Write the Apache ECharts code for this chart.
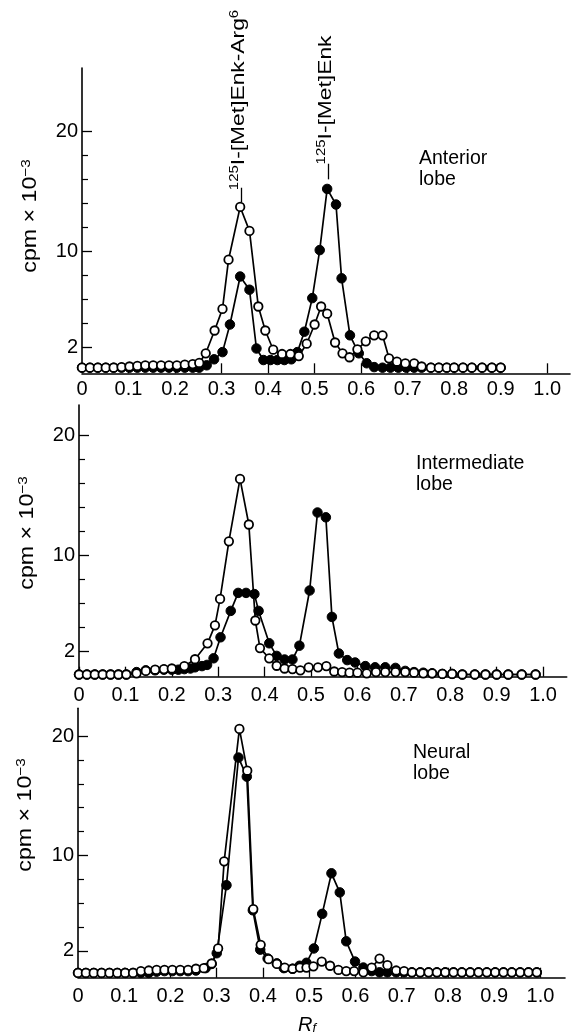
<!DOCTYPE html>
<html>
<head>
<meta charset="utf-8">
<script src="https://cdn.jsdelivr.net/npm/echarts@6/dist/echarts.min.js"></script>
<style>
html,body{margin:0;padding:0;background:#fff;}
#c{width:572px;height:1036px;}
</style>
</head>
<body>
<div id="c"></div>
<script>
// ---------- DATA ----------
const xTicks = [0,0.1,0.2,0.3,0.4,0.5,0.6,0.7,0.8,0.9,1.0];
const xTickLabels = ['0','0.1','0.2','0.3','0.4','0.5','0.6','0.7','0.8','0.9','1.0'];
const yMajorTicks = [2,10,20];
const yMinorTicks = [4,6,8,12,14,16,18];

// Anterior lobe
const antOpenX = [0,0.017,0.034,0.051,0.068,0.085,0.102,0.119,0.136,0.153,0.17,0.187,0.204,0.221,0.238,0.252,0.266,0.285,0.302,0.315,0.34,0.36,0.379,0.394,0.411,0.43,0.448,0.466,0.483,0.5,0.514,0.527,0.544,0.56,0.575,0.592,0.61,0.628,0.646,0.66,0.677,0.695,0.714,0.73,0.75,0.767,0.784,0.8,0.819,0.838,0.86,0.881,0.9];
const antOpenY = [0.3,0.3,0.3,0.3,0.3,0.35,0.4,0.45,0.5,0.5,0.5,0.5,0.5,0.55,0.6,0.7,1.5,3.4,5.2,9.3,13.7,11.7,5.4,3.4,1.8,1.44,1.44,1.27,2.3,3.9,5.4,4.8,2.4,1.5,1.17,1.83,2.5,3.0,3.0,1.08,0.8,0.66,0.66,0.4,0.3,0.3,0.3,0.3,0.3,0.3,0.3,0.3,0.3];
const antFillX = [0,0.017,0.034,0.051,0.068,0.085,0.102,0.119,0.136,0.153,0.17,0.187,0.204,0.221,0.238,0.252,0.268,0.284,0.302,0.318,0.34,0.36,0.375,0.39,0.405,0.42,0.435,0.45,0.463,0.478,0.495,0.511,0.527,0.546,0.558,0.576,0.595,0.612,0.628,0.646,0.663,0.68,0.697,0.714,0.73,0.75,0.767,0.784,0.8,0.819,0.838,0.86,0.881,0.9];
const antFillY = [0.3,0.3,0.3,0.3,0.3,0.3,0.3,0.3,0.3,0.3,0.3,0.3,0.3,0.3,0.3,0.3,0.5,1.0,1.6,3.9,7.9,6.8,1.9,0.94,0.94,0.94,0.94,1.0,1.6,3.3,6.1,10.1,15.2,13.9,7.75,3.0,1.5,0.67,0.35,0.3,0.3,0.3,0.3,0.3,0.3,0.3,0.3,0.3,0.3,0.3,0.3,0.3,0.3,0.3];

// Intermediate lobe
const intOpenX = [0,0.017,0.034,0.051,0.068,0.085,0.102,0.124,0.144,0.164,0.183,0.2,0.227,0.25,0.277,0.293,0.304,0.323,0.347,0.366,0.38,0.39,0.41,0.426,0.443,0.46,0.477,0.495,0.515,0.533,0.55,0.567,0.583,0.6,0.62,0.64,0.66,0.682,0.703,0.722,0.742,0.761,0.783,0.804,0.826,0.853,0.876,0.9,0.925,0.954,0.984];
const intOpenY = [0.1,0.1,0.1,0.1,0.1,0.1,0.1,0.2,0.4,0.5,0.55,0.6,0.8,1.37,2.7,4.2,6.4,11.2,16.4,12.6,4.6,2.3,1.45,0.83,0.6,0.55,0.45,0.7,0.7,0.8,0.35,0.3,0.25,0.25,0.2,0.3,0.3,0.3,0.3,0.25,0.2,0.2,0.15,0.15,0.1,0.1,0.1,0.1,0.1,0.1,0.1];
const intFillX = [0,0.017,0.034,0.051,0.068,0.085,0.102,0.124,0.144,0.164,0.183,0.2,0.214,0.227,0.24,0.25,0.265,0.276,0.29,0.305,0.327,0.343,0.36,0.378,0.387,0.41,0.426,0.443,0.46,0.475,0.497,0.514,0.532,0.545,0.56,0.578,0.595,0.617,0.638,0.66,0.682,0.703,0.722,0.742,0.761,0.783,0.804,0.826,0.853,0.876,0.9,0.925,0.954,0.984];
const intFillY = [0.1,0.1,0.1,0.1,0.1,0.1,0.1,0.3,0.45,0.45,0.5,0.5,0.5,0.55,0.6,0.7,0.8,0.9,1.45,3.2,5.4,6.9,6.9,6.8,5.4,2.7,1.65,1.35,1.35,2.5,7.1,13.6,13.2,4.9,1.85,1.3,1.1,0.8,0.7,0.7,0.65,0.4,0.3,0.25,0.2,0.15,0.15,0.1,0.1,0.1,0.1,0.1,0.1,0.1];

// Neural lobe
const neuOpenX = [0,0.017,0.034,0.051,0.068,0.085,0.102,0.119,0.136,0.153,0.17,0.187,0.204,0.221,0.238,0.255,0.272,0.289,0.303,0.316,0.349,0.366,0.379,0.395,0.412,0.43,0.447,0.464,0.48,0.494,0.509,0.527,0.545,0.563,0.58,0.597,0.617,0.635,0.652,0.669,0.688,0.705,0.722,0.74,0.758,0.776,0.794,0.812,0.83,0.848,0.866,0.884,0.902,0.92,0.938,0.956,0.974,0.992];
const neuOpenY = [0.15,0.15,0.15,0.15,0.15,0.15,0.15,0.15,0.3,0.35,0.4,0.4,0.4,0.4,0.4,0.5,0.55,0.94,2.2,9.5,20.6,17.1,5.5,2.5,1.3,0.9,0.6,0.5,0.6,0.6,0.7,1.1,0.75,0.4,0.3,0.3,0.2,0.6,1.35,0.8,0.35,0.3,0.2,0.2,0.2,0.2,0.2,0.2,0.2,0.2,0.2,0.2,0.2,0.2,0.2,0.2,0.2,0.2];
const neuFillX = [0,0.017,0.034,0.051,0.068,0.085,0.102,0.119,0.136,0.153,0.17,0.187,0.204,0.221,0.238,0.255,0.276,0.289,0.3,0.321,0.347,0.365,0.378,0.394,0.41,0.43,0.445,0.464,0.479,0.494,0.51,0.528,0.548,0.566,0.58,0.599,0.617,0.635,0.652,0.669,0.688,0.705,0.722,0.74,0.758,0.776,0.794,0.812,0.83,0.848,0.866,0.884,0.902,0.92,0.938,0.956,0.974,0.992];
const neuFillY = [0.15,0.15,0.15,0.15,0.15,0.15,0.15,0.15,0.15,0.15,0.25,0.3,0.3,0.3,0.3,0.35,0.55,0.9,1.8,7.5,18.2,16.6,5.4,2.1,1.36,0.95,0.55,0.5,0.75,1.0,2.2,5.1,8.5,6.9,2.8,1.1,0.6,0.3,0.2,0.2,0.2,0.2,0.2,0.2,0.2,0.2,0.2,0.2,0.2,0.2,0.2,0.2,0.2,0.2,0.2,0.2,0.2,0.2];

const panelNames = ['Anterior\nlobe','Intermediate\nlobe','Neural\nlobe'];
const peakLabels = ['{s|125}{n|I-[Met]Enk-Arg}{s|6}','{s|125}{n|I-[Met]Enk}'];
const yName = '{n|cpm × 10}{s|−3}';

// ---------- LAYOUT ----------
const FONT = "'Liberation Sans', Arial, Helvetica, sans-serif";
const grids = [
  {left:82, top:68, width:488, height:303.3, ymax:25.28, xmax:1.049, xoff:2, lm:6},
  {left:79, top:405, width:487.7, height:270.7, ymax:22.56, xmax:1.051, xoff:1, lm:9},
  {left:78, top:708.3, width:487, height:266.4, ymax:22.33, xmax:1.053, xoff:3, lm:9}
];
const pairs = (xs, ys) => xs.map((x,i)=>[x, ys[i]]);
const panels = [
  [pairs(antOpenX,antOpenY), pairs(antFillX,antFillY)],
  [pairs(intOpenX,intOpenY), pairs(intFillX,intFillY)],
  [pairs(neuOpenX,neuOpenY), pairs(neuFillX,neuFillY)]
];

const gridOpt = [], xAxes = [], yAxes = [], series = [];
grids.forEach((g,i)=>{
  gridOpt.push({left:g.left, top:g.top, width:g.width, height:g.height, containLabel:false});
  xAxes.push({
    type:'value', gridIndex:i, min:0, max:g.xmax, offset:g.xoff,
    axisLine:{show:true, onZero:false, lineStyle:{color:'#000', width:1.6}},
    axisTick:{show:true, inside:true, length:10, customValues:xTicks, lineStyle:{color:'#000', width:1.3}},
    axisLabel:{show:true, customValues:xTicks, margin:g.lm, color:'#000', fontFamily:FONT, fontSize:20,
      formatter:(v)=>{const k=xTicks.findIndex(t=>Math.abs(t-v)<1e-6); return k>=0?xTickLabels[k]:'';}},
    splitLine:{show:false}
  });
  yAxes.push({
    type:'value', gridIndex:i, min:0, max:g.ymax, position:'left',
    axisLine:{show:true, onZero:false, lineStyle:{color:'#000', width:1.6}},
    axisTick:{show:true, inside:true, length:10, customValues:yMajorTicks, lineStyle:{color:'#000', width:1.3}},
    axisLabel:{show:true, customValues:yMajorTicks, margin:4, color:'#000', fontFamily:FONT, fontSize:20},
    splitLine:{show:false}
  });
  yAxes.push({
    type:'value', gridIndex:i, min:0, max:g.ymax, position:'left',
    axisLine:{show:false},
    axisTick:{show:true, inside:true, length:6, customValues:yMinorTicks, lineStyle:{color:'#000', width:1.2}},
    axisLabel:{show:false},
    splitLine:{show:false}
  });
  const [openD, fillD] = panels[i];
  const fillS = {
    type:'line', xAxisIndex:i, yAxisIndex:2*i, data:fillD, symbol:'circle', symbolSize:9.5, showSymbol:true,
    lineStyle:{color:'#000', width:1.7}, itemStyle:{color:'#000', borderColor:'#000', borderWidth:1}, z:2, silent:true, animation:false
  };
  const openS = {
    type:'line', xAxisIndex:i, yAxisIndex:2*i, data:openD, symbol:'circle', symbolSize:8.5, showSymbol:true,
    lineStyle:{color:'#000', width:1.7}, itemStyle:{color:'#fff', borderColor:'#000', borderWidth:1.8}, z:3, silent:true, animation:false
  };
  if (i===0) {
    const arrowStyle = {symbol:['none','arrow'], symbolSize:[0,7], silent:true, animation:false,
      lineStyle:{color:'#000', width:1.3, type:'solid'}, label:{show:false}};
    openS.markLine = Object.assign({data:[[{coord:[0.342,15.3]},{coord:[0.342,14.1]}]]}, arrowStyle);
    fillS.markLine = Object.assign({data:[[{coord:[0.529,17.3]},{coord:[0.529,16.0]}]]}, arrowStyle);
  }
  series.push(fillS, openS);
});

const richSup = {
  n:{fontFamily:FONT, fontSize:19, color:'#000', lineHeight:24},
  s:{fontFamily:FONT, fontSize:12.5, color:'#000', lineHeight:24, padding:[0,0,9,0]}
};
const graphic = [];
const yNamePos = [[31,216],[28,533],[26,815]];
yNamePos.forEach(p=>{
  graphic.push({type:'text', x:p[0], y:p[1], rotation:Math.PI/2, scaleX:1.22, scaleY:1.05, silent:true,
    style:{text:yName, rich:richSup, align:'center', verticalAlign:'middle', fill:'#000'}});
});
const namePos = [[419,148],[416,453],[413,742]];
namePos.forEach((p,i)=>{
  graphic.push({type:'text', x:p[0], y:p[1], silent:true,
    style:{text:panelNames[i], font:'19.5px '+FONT, lineHeight:21, fill:'#000', align:'left', verticalAlign:'top'}});
});
const peakPos = [[239,100],[326,100]];
peakPos.forEach((p,i)=>{
  graphic.push({type:'text', x:p[0], y:p[1], rotation:Math.PI/2, scaleX:1.2, silent:true,
    style:{text:peakLabels[i], rich:richSup, align:'center', verticalAlign:'middle', fill:'#000'}});
});
graphic.push({type:'text', x:307, y:1025, silent:true,
  style:{text:'{r|R}{f|f}', align:'center', verticalAlign:'middle',
    rich:{r:{fontFamily:FONT, fontSize:20, fontStyle:'italic', color:'#000', lineHeight:22},
          f:{fontFamily:FONT, fontSize:13, fontStyle:'italic', color:'#000', lineHeight:22, padding:[7,0,0,0]}}}});

const chart = echarts.init(document.getElementById('c'), null, {renderer:'canvas'});
chart.setOption({
  animation:false,
  backgroundColor:'#fff',
  grid:gridOpt, xAxis:xAxes, yAxis:yAxes, series:series, graphic:graphic
});
</script>
</body>
</html>
